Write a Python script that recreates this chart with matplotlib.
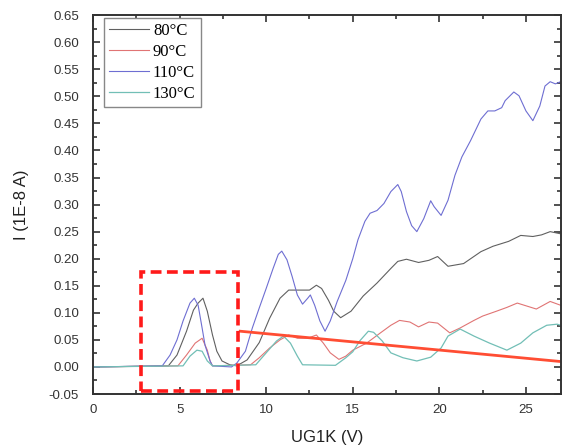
import numpy as np
import matplotlib
matplotlib.use('Agg')
import matplotlib.pyplot as plt
from matplotlib.ticker import MultipleLocator, FormatStrFormatter
from matplotlib.patches import Rectangle

# measured I-V curves, UG1K (V) vs I (1E-8 A)
x_80 = [0, 4.35, 4.85, 5.4, 5.8, 6.07, 6.35, 6.6, 6.9, 7.15, 7.45, 7.9, 8.3, 8.9, 9.6, 10.2,
        10.8, 11.3, 12.0, 12.5, 12.9, 13.2, 13.6, 13.9, 14.3, 14.9, 15.6, 16.4, 17.2, 17.6,
        18.1, 18.8, 19.4, 19.9, 20.5, 21.4, 22.4, 23.1, 23.5, 24.0, 24.7, 25.4, 25.9, 26.4, 27.0]
i_80 = [0, 0.002, 0.022, 0.066, 0.105, 0.118, 0.127, 0.103, 0.059, 0.029, 0.011, 0.004, 0.002,
        0.013, 0.045, 0.09, 0.127, 0.142, 0.142, 0.142, 0.151, 0.145, 0.123, 0.103, 0.091,
        0.103, 0.131, 0.155, 0.182, 0.195, 0.199, 0.193, 0.197, 0.204, 0.186, 0.191, 0.213,
        0.223, 0.227, 0.232, 0.243, 0.241, 0.244, 0.25, 0.246]

x_90 = [0, 4.9, 5.4, 5.9, 6.3, 6.6, 6.76, 6.9, 9.1, 9.6, 10.2, 10.8, 11.3, 11.8, 12.4, 12.9,
        13.3, 13.7, 14.2, 14.6, 15.0, 15.8, 16.6, 17.2, 17.7, 18.3, 18.8, 19.4, 19.9, 20.6,
        21.2, 22.0, 22.5, 23.3, 23.9, 24.5, 25.1, 25.6, 26.4, 27.0]
i_90 = [0, 0.002, 0.022, 0.044, 0.053, 0.031, 0.011, 0.002, 0.004, 0.017, 0.035, 0.05, 0.059,
        0.053, 0.053, 0.059, 0.044, 0.026, 0.014, 0.02, 0.031, 0.044, 0.063, 0.077, 0.086,
        0.083, 0.074, 0.083, 0.081, 0.063, 0.072, 0.086, 0.094, 0.103, 0.11, 0.118, 0.112,
        0.107, 0.121, 0.114]

x_110 = [0, 4.0, 4.45, 4.85, 5.2, 5.6, 5.85, 6.07, 6.3, 6.47, 6.76, 6.9, 8.0, 8.3, 8.8, 9.2,
         9.6, 10.0, 10.4, 10.7, 10.9, 11.2, 11.5, 11.8, 12.1, 12.4, 12.55, 12.8, 13.1, 13.4,
         13.7, 14.1, 14.6, 15.0, 15.3, 15.7, 16.0, 16.4, 16.8, 17.2, 17.6, 17.8, 18.1, 18.4,
         18.7, 19.1, 19.5, 19.7, 20.1, 20.5, 20.9, 21.3, 21.8, 22.4, 22.8, 23.2, 23.6, 23.8,
         24.3, 24.6, 25.0, 25.4, 25.8, 26.1, 26.4, 26.7, 27.0]
i_110 = [0, 0.002, 0.022, 0.05, 0.085, 0.118, 0.127, 0.114, 0.072, 0.04, 0.011, 0.002, 0.0,
         0.007, 0.029, 0.072, 0.109, 0.145, 0.182, 0.208, 0.214, 0.198, 0.167, 0.133, 0.116,
         0.127, 0.133, 0.114, 0.085, 0.066, 0.085, 0.121, 0.16, 0.2, 0.235, 0.269, 0.284,
         0.289, 0.302, 0.324, 0.337, 0.324, 0.287, 0.261, 0.25, 0.274, 0.307, 0.296, 0.28,
         0.308, 0.354, 0.388, 0.418, 0.458, 0.473, 0.473, 0.479, 0.492, 0.508, 0.501, 0.473,
         0.455, 0.482, 0.519, 0.527, 0.523, 0.527]

x_130 = [0, 5.2, 5.6, 6.0, 6.3, 6.6, 6.9, 9.4, 10.0, 10.6, 11.0, 11.4, 11.8, 12.1, 14.0, 14.6,
         15.0, 15.4, 15.9, 16.2, 16.7, 17.2, 17.9, 18.7, 19.5, 20.1, 20.5, 21.2, 22.0, 22.9,
         23.9, 24.7, 25.4, 26.2, 26.8, 27.0]
i_130 = [0, 0.002, 0.02, 0.031, 0.029, 0.011, 0.002, 0.004, 0.026, 0.048, 0.057, 0.044, 0.02,
         0.004, 0.003, 0.017, 0.028, 0.048, 0.066, 0.064, 0.048, 0.026, 0.017, 0.011, 0.018,
         0.035, 0.057, 0.07, 0.057, 0.044, 0.031, 0.044, 0.063, 0.077, 0.079, 0.077]

labels = ['80°C', '90°C', '110°C', '130°C']

# trend line and highlighted region
trend_x = [8.5, 27.0]
trend_i = [0.066, 0.010]
box_x = [2.8, 8.4]
box_i = [-0.045, 0.175]

fig = plt.figure(figsize=(5.62, 4.45), dpi=100)
ax = fig.add_axes([0.1655, 0.1146, 0.8335, 0.8514])

ax.plot(x_80, i_80, color='#606060', lw=0.8, label=labels[0])
ax.plot(x_90, i_90, color='#e07474', lw=0.8, label=labels[1])
ax.plot(x_110, i_110, color='#6e6ed2', lw=0.8, label=labels[2])
ax.plot(x_130, i_130, color='#72bfb6', lw=0.9, label=labels[3])

ax.plot(trend_x, trend_i, color='#ff4d33', lw=2.0)
ax.add_patch(Rectangle((box_x[0], box_i[0]), box_x[1] - box_x[0], box_i[1] - box_i[0],
                       fill=False, edgecolor='#ff1a1a', lw=2.6, linestyle=(0, (3, 1.5)),
                       zorder=5))

ax.set_xlim(0, 27.05)
ax.set_ylim(-0.05, 0.65)
ax.xaxis.set_major_locator(MultipleLocator(5))
ax.xaxis.set_minor_locator(MultipleLocator(2.5))
ax.yaxis.set_major_locator(MultipleLocator(0.05))
ax.yaxis.set_minor_locator(MultipleLocator(0.025))
ax.yaxis.set_major_formatter(FormatStrFormatter('%.2f'))
ax.tick_params(which='both', direction='in', top=True, right=True, color='#333333',
               labelsize=9.5, width=1.2, labelcolor='#333333')
ax.tick_params(which='major', length=5)
ax.tick_params(axis='y', which='major', pad=10)
ax.tick_params(axis='x', which='major', pad=7)
ax.tick_params(which='minor', length=3)
for t in ax.get_xticklabels() + ax.get_yticklabels():
    t.set_fontfamily('Liberation Sans')
for s in ax.spines.values():
    s.set_color('#333333')
    s.set_linewidth(1.4)

ax.set_xlabel('UG1K (V)', fontsize=12, family='Liberation Sans', labelpad=10, color='#222222')
ax.set_ylabel('I (1E-8 A)', fontsize=12, family='Liberation Sans', labelpad=14, color='#222222')

leg = ax.legend(loc='upper left', prop={'family': 'Liberation Serif', 'size': 12},
                handlelength=2.4, handletextpad=0.25, borderpad=0.3, labelspacing=0.3,
                fancybox=False, framealpha=1, borderaxespad=0.0, bbox_to_anchor=(0.023, 0.993))
leg.get_frame().set_edgecolor('#888888')
leg.get_frame().set_linewidth(1.0)

fig.savefig('out.png', dpi=100)
